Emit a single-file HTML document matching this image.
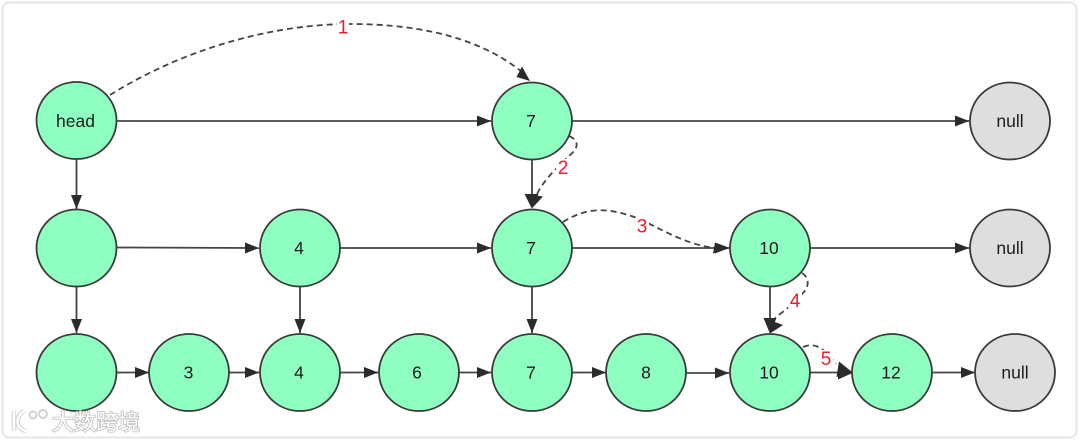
<!DOCTYPE html>
<html><head><meta charset="utf-8"><style>
html,body{margin:0;padding:0;background:#fff}
svg{display:block;filter:blur(.35px)}
text{font-family:"Liberation Sans","Noto Sans CJK SC",sans-serif}
</style></head><body>
<svg width="1080" height="441" viewBox="0 0 1080 441" xmlns="http://www.w3.org/2000/svg">
<defs>
<marker id="a" markerUnits="userSpaceOnUse" markerWidth="16" markerHeight="12" refX="14" refY="6" orient="auto"><path d="M0 .5 14 6 0 11.5z" fill="#2b2b2b"/></marker>
</defs>
<rect width="1080" height="441" fill="#fff"/>
<rect x="2.500" y="2.500" width="1074" height="435" rx="7" fill="#fff" stroke="#e6e6e6" stroke-width="2"/>
<g fill="none" stroke="#444" stroke-width="1.800" marker-end="url(#a)">
<path d="M117 121H491"/><path d="M572 121H969"/>
<path d="M76.500 159V209"/><path d="M117 247.500 259 248"/><path d="M340 248H491"/>
<path d="M572 248H729"/><path d="M810 248H969"/>
<path d="M76.500 287V333"/><path d="M300 287V333"/><path d="M532 287V333"/>
<path d="M117 372.500H149"/><path d="M229 372.500H259"/><path d="M340 372.500H378"/>
<path d="M459 372.500H491"/><path d="M572 372.500H606"/><path d="M686 373H729"/><path d="M933 372.500H975"/>
</g>
<g fill="none" stroke="#444" stroke-width="1.800">
<path d="M532 159V200"/><path d="M770 287V322"/><path d="M810 372.500H842"/>
</g>
<g fill="none" stroke="#444" stroke-width="1.800" stroke-dasharray="6 4">
<path d="M110 95C190 45 280 24 350 24C430 24 485 42 522 72"/>
<path d="M569 136C579 140 579 148 570 155C560 165 545 178 537 194"/>
<path d="M563 222C590 205 612 209 637 218C660 228 685 245 716 248"/>
<path d="M802 273C810 278 809 287 803 293C795 303 785 310 775 318"/>
<path d="M803 347C818 341 826 352 836 364"/>
</g>
<g fill="#2b2b2b">
<path d="M530 81 522 66.500 516.500 77z"/>
<path d="M531.800 208.500 524.500 194 543 196.500z"/>
<path d="M532 208.500 525.500 194H538.500z"/>
<path d="M730 248 715 242.500 713 253.500z"/>
<path d="M770 333.500 764 318 783 325z"/>
<path d="M770 333.500 763.500 318H776.500z"/>
<path d="M853 372.700 839 361.500 836.500 377z"/>
<path d="M853 372.700 838 366V379.500z"/>
</g>
<g stroke="#3a3a3a" stroke-width="1.800" fill="#8effc1">
<ellipse cx="76.500" cy="120.500" rx="40" ry="38.500"/>
<ellipse cx="532" cy="121" rx="40" ry="38.500"/>
<ellipse cx="76.500" cy="248" rx="40" ry="38.500"/>
<ellipse cx="300" cy="248" rx="40" ry="38.500"/>
<ellipse cx="532" cy="248" rx="40" ry="38.500"/>
<ellipse cx="770" cy="248" rx="40" ry="38.500"/>
<ellipse cx="76.500" cy="372.500" rx="40" ry="38.500"/>
<ellipse cx="189" cy="372.500" rx="40" ry="38.500"/>
<ellipse cx="300" cy="372.500" rx="40" ry="38.500"/>
<ellipse cx="419" cy="372.500" rx="40" ry="38.500"/>
<ellipse cx="532" cy="372.500" rx="40" ry="38.500"/>
<ellipse cx="646" cy="372.500" rx="40" ry="38.500"/>
<ellipse cx="770" cy="372.500" rx="40" ry="38.500"/>
<ellipse cx="892" cy="372.500" rx="40" ry="38.500"/>
</g>
<g stroke="#3a3a3a" stroke-width="1.800" fill="#dedede">
<ellipse cx="1010" cy="121" rx="40" ry="38.500"/>
<ellipse cx="1010" cy="248" rx="40" ry="38.500"/>
<ellipse cx="1015" cy="372.500" rx="40" ry="38.500"/>
</g>
<g font-size="17.500" fill="#1c1c1c" text-anchor="middle">
<text x="75.500" y="127">head</text>
<text x="531" y="127">7</text><text x="1010" y="127">null</text>
<text x="299" y="254">4</text><text x="531" y="254">7</text><text x="769" y="254">10</text><text x="1010" y="254">null</text>
<text x="188.500" y="378.500">3</text><text x="299" y="378.500">4</text><text x="417" y="378.500">6</text><text x="531" y="378.500">7</text><text x="646" y="378.500">8</text><text x="769" y="378.500">10</text><text x="891" y="378.500">12</text><text x="1015" y="378.500">null</text>
</g>
<g font-size="19" fill="#ee1c2e" text-anchor="middle">
<rect x="337" y="18" width="12" height="16" fill="#fff"/><text x="343" y="33.500">1</text>
<rect x="556" y="159" width="14" height="17" fill="#fff"/><text x="563" y="174">2</text>
<rect x="635" y="218" width="14" height="16" fill="#fff"/><text x="642" y="232.500">3</text>
<rect x="788" y="292" width="14" height="16" fill="#fff"/><text x="795" y="307">4</text>
<rect x="819" y="350" width="14" height="16" fill="#fff"/><text x="826" y="365">5</text>
</g>
<g fill="none" stroke="#d0d0d0" stroke-width="4.500">
<path d="M14 411V431M24 411C15 417 15 428 26 431"/>
<circle cx="33" cy="415" r="3.500" stroke-width="2"/><circle cx="43" cy="414" r="4" stroke-width="2"/>
</g>
<g fill="none" stroke="#fff" stroke-width="2.500">
<path d="M14 411V431M24 411C15 417 15 428 26 431"/>
</g>
<text x="52" y="430" font-size="22" fill="#fff" stroke="#bdbdbd" stroke-width="1.600" paint-order="stroke">大数跨境</text>
</svg>
</body></html>
